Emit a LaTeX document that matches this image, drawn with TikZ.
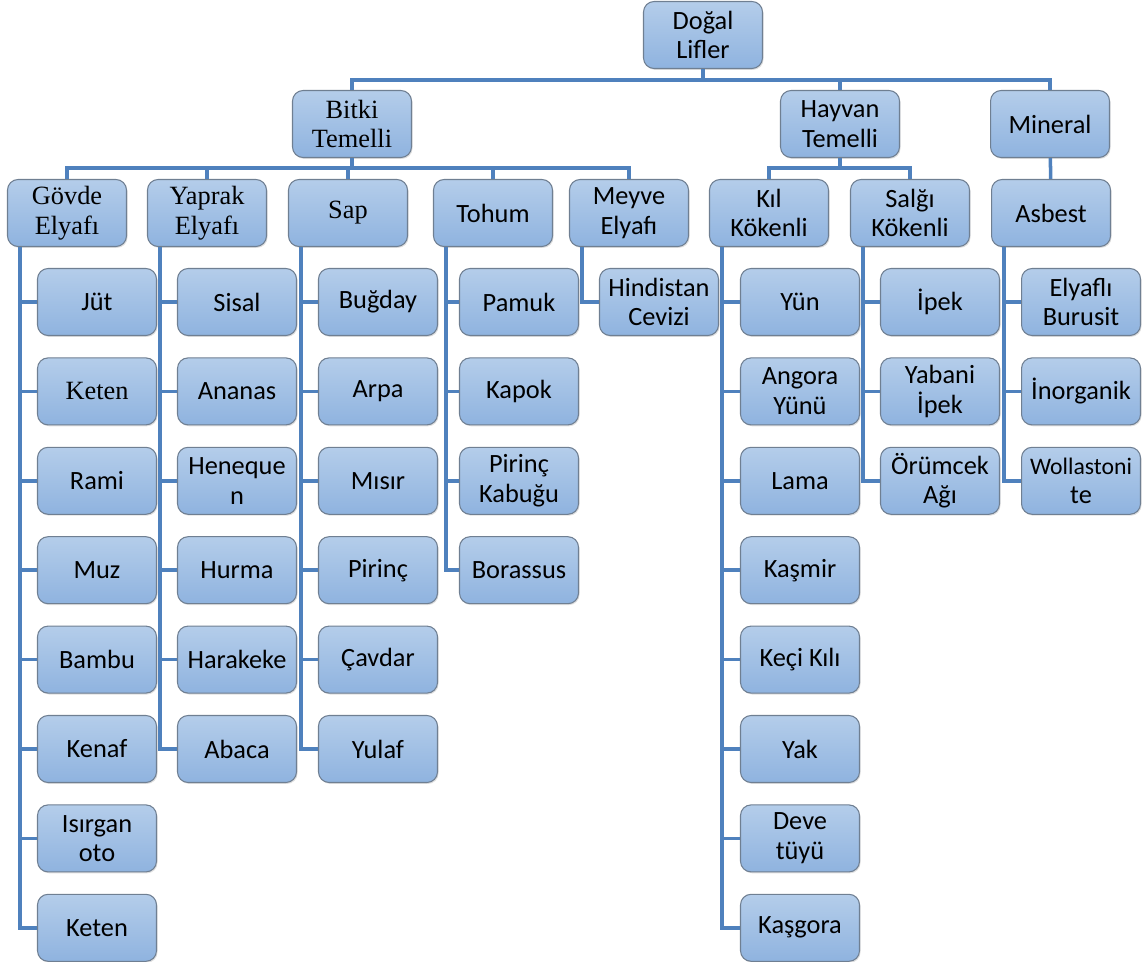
\documentclass[tikz,border=0pt]{standalone}
\usepackage{fontspec}
\setmainfont{Carlito}
\newfontfamily\tmsfont{Liberation Serif}
\usetikzlibrary{positioning, calc, shadows}
\definecolor{boxtop}{HTML}{B4CDEA}
\definecolor{boxbot}{HTML}{8FB3DF}
\definecolor{boxedge}{HTML}{6F7F92}
\definecolor{linkblue}{HTML}{4F81BD}
\tikzset{
  fib/.style={
    draw=boxedge, line width=0.6pt, rounded corners=6pt,
    top color=boxtop, bottom color=boxbot, align=center, inner sep=1pt,
    minimum width=2.38cm, minimum height=1.34cm,
    font=\fontsize{15}{16.8}\selectfont,
    drop shadow={opacity=0.25, shadow xshift=0.6pt, shadow yshift=-0.8pt}
  },
  conn/.style={draw=linkblue, line width=2pt},
  trunk/.style={shift={(13,0)}}
}
\begin{document}
\begin{tikzpicture}[x=0.02cm, y=-0.02cm]
  \useasboundingbox (0,0) rectangle (1145,962);
  \node[fib] (dogal) at (703,35) {Doğal\\Lifler};
  \node[fib] (bitki) at (352,124) {\tmsfont Bitki\\\tmsfont Temelli};
  \node[fib] (hayvan) at (840,124) {Hayvan\\Temelli};
  \node[fib] (mineral) at (1050,124) {Mineral};
  \draw[conn] (dogal.south) -- ++(0,11) -| (bitki.north);
  \draw[conn] (dogal.south) -- ++(0,11) -| (hayvan.north);
  \draw[conn] (dogal.south) -- ++(0,11) -| (mineral.north);

  \node[fib] (govde) at (67,213) {\tmsfont Gövde\\\tmsfont Elyafı};
  \node[fib] (yaprak) at (207,213) {\tmsfont Yaprak\\\tmsfont Elyafı};
  \node[fib] (sap) at (348,213) {\tmsfont Sap};
  \node[fib] (tohum) at (493,213) {Tohum};
  \node[fib] (meyve) at (629,213) {Meyve\\Elyafı};
  \node[fib] (kil) at (769,213) {Kıl\\Kökenli};
  \node[fib] (salgi) at (910,213) {Salğı\\Kökenli};
  \node[fib] (asbest) at (1051,213) {Asbest};
  \foreach \c in {govde,yaprak,sap,tohum,meyve}
    \draw[conn] (bitki.south) -- ++(0,10) -| (\c.north);
  \foreach \c in {kil,salgi}
    \draw[conn] (hayvan.south) -- ++(0,10) -| (\c.north);
  \draw[conn] (mineral) -- (asbest);

  \foreach \t [count=\i] in {Jüt,{\tmsfont Keten},Rami,Muz,Bambu,Kenaf,{Isırgan\\oto},Keten}
    \node[fib] (gv\i) at (97,{302+89.4*(\i-1)}) {\t};
  \foreach \t [count=\i] in {Sisal,Ananas,{Heneque\\n},Hurma,Harakeke,Abaca}
    \node[fib] (yp\i) at (237,{302+89.4*(\i-1)}) {\t};
  \foreach \t [count=\i] in {Buğday,Arpa,Mısır,Pirinç,Çavdar,Yulaf}
    \node[fib] (sp\i) at (378,{302+89.4*(\i-1)}) {\t};
  \foreach \t [count=\i] in {Pamuk,Kapok,{Pirinç\\Kabuğu},Borassus}
    \node[fib] (th\i) at (519,{302+89.4*(\i-1)}) {\t};
  \node[fib] (my1) at (659,302) {Hindistan\\Cevizi};
  \foreach \t [count=\i] in {Yün,{Angora\\Yünü},Lama,Kaşmir,Keçi Kılı,Yak,{Deve\\tüyü},Kaşgora}
    \node[fib] (kl\i) at (800,{302+89.4*(\i-1)}) {\t};
  \foreach \t [count=\i] in {İpek,{Yabani\\İpek},{Örümcek\\Ağı}}
    \node[fib] (sg\i) at (940,{302+89.4*(\i-1)}) {\t};
  \foreach \t [count=\i] in {{Elyaflı\\Burusit},İnorganik,{\fontsize{13.5}{16}\selectfont Wollastoni\\te}}
    \node[fib] (ab\i) at (1081,{302+89.4*(\i-1)}) {\t};

  \coordinate (gvT) at ([trunk]govde.south west);
  \coordinate (ypT) at ([trunk]yaprak.south west);
  \coordinate (spT) at ([trunk]sap.south west);
  \coordinate (thT) at ([trunk]tohum.south west);
  \coordinate (myT) at ([trunk]meyve.south west);
  \coordinate (klT) at ([trunk]kil.south west);
  \coordinate (sgT) at ([trunk]salgi.south west);
  \coordinate (abT) at ([trunk]asbest.south west);
  \foreach \i in {1,...,8} \draw[conn] (gvT) |- (gv\i.west);
  \foreach \i in {1,...,6} \draw[conn] (ypT) |- (yp\i.west);
  \foreach \i in {1,...,6} \draw[conn] (spT) |- (sp\i.west);
  \foreach \i in {1,...,4} \draw[conn] (thT) |- (th\i.west);
  \draw[conn] (myT) |- (my1.west);
  \foreach \i in {1,...,8} \draw[conn] (klT) |- (kl\i.west);
  \foreach \i in {1,...,3} \draw[conn] (sgT) |- (sg\i.west);
  \foreach \i in {1,...,3} \draw[conn] (abT) |- (ab\i.west);
\end{tikzpicture}
\end{document}
